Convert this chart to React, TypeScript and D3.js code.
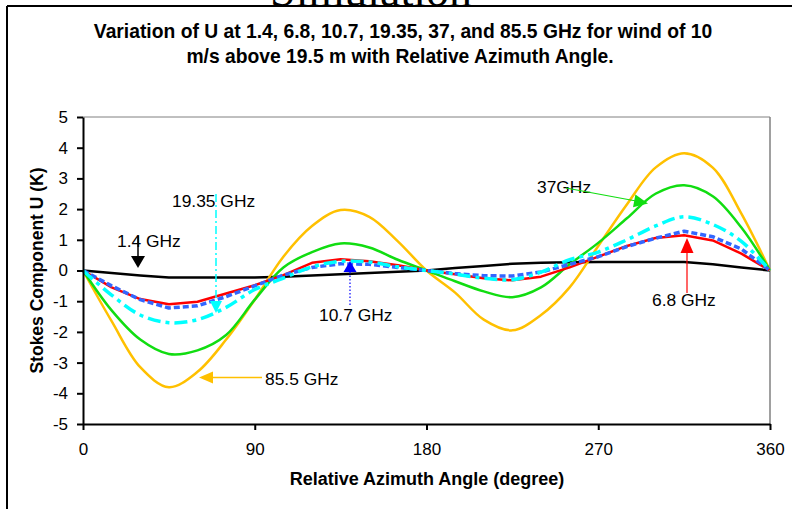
import React, { useEffect, useRef } from "react";
import * as d3 from "d3";

// Relative azimuth angle (degree)
const ANGLES = [0, 15, 30, 45, 60, 75, 90, 105, 120, 135, 150, 165, 180, 195, 210, 225, 240, 255, 270, 285, 300, 315, 330, 345, 360];

// Stokes component U (K) per frequency
const U_1_4 = [0, -0.08, -0.16, -0.23, -0.23, -0.23, -0.23, -0.2, -0.16, -0.12, -0.08, -0.04, 0, 0.08, 0.15, 0.22, 0.25, 0.27, 0.28, 0.28, 0.28, 0.28, 0.2, 0.1, 0];
const U_6_8 = [0, -0.55, -0.93, -1.1, -1.02, -0.75, -0.48, -0.15, 0.25, 0.37, 0.3, 0.17, 0, -0.12, -0.25, -0.32, -0.2, 0.1, 0.45, 0.8, 1.06, 1.15, 0.98, 0.55, 0];
const U_10_7 = [0, -0.5, -0.95, -1.22, -1.15, -0.85, -0.5, -0.15, 0.1, 0.22, 0.2, 0.1, 0, -0.1, -0.17, -0.18, -0.05, 0.2, 0.45, 0.78, 1.05, 1.28, 1.1, 0.7, 0];
const U_19_35 = [0, -0.8, -1.45, -1.7, -1.6, -1.2, -0.62, -0.25, 0.12, 0.3, 0.28, 0.12, 0, -0.12, -0.25, -0.3, -0.05, 0.35, 0.6, 1.0, 1.45, 1.75, 1.5, 0.95, 0];
const U_37 = [0, -1.3, -2.25, -2.72, -2.6, -2.1, -0.95, 0.1, 0.6, 0.88, 0.75, 0.35, 0, -0.35, -0.68, -0.87, -0.55, 0.2, 0.9, 1.7, 2.5, 2.78, 2.42, 1.4, 0];
const U_85_5 = [0, -1.65, -3.15, -3.8, -3.3, -2.25, -0.95, 0.45, 1.45, 1.97, 1.75, 0.95, 0, -0.72, -1.6, -1.95, -1.45, -0.55, 0.8, 2.15, 3.35, 3.82, 3.35, 1.85, 0];

const X_TICKS = [0, 90, 180, 270, 360];
const Y_TICKS = [-5, -4, -3, -2, -1, 0, 1, 2, 3, 4, 5];

const TITLE_1 = "Variation of U at 1.4, 6.8, 10.7, 19.35, 37, and 85.5 GHz for wind of 10";
const TITLE_2 = "m/s above 19.5 m with Relative Azimuth Angle.";
const X_TITLE = "Relative Azimuth Angle (degree)";
const Y_TITLE = "Stokes Component U (K)";

const SERIES = [
  { name: "1.4 GHz", values: U_1_4, color: "#000000", width: 2.5, dash: null, smooth: false },
  { name: "85.5 GHz", values: U_85_5, color: "#FFC000", width: 2.5, dash: null, smooth: true },
  { name: "37GHz", values: U_37, color: "#11DD11", width: 2.5, dash: null, smooth: true },
  { name: "6.8 GHz", values: U_6_8, color: "#FF0000", width: 2.5, dash: null, smooth: false },
  { name: "10.7 GHz", values: U_10_7, color: "#3366FF", width: 3.5, dash: "6,3", smooth: false },
  { name: "19.35 GHz", values: U_19_35, color: "#00FFFF", width: 3.5, dash: "13,5,4,5", smooth: true },
];

const FONT = "'Liberation Sans', Arial, sans-serif";

export default function App() {
  const xAxisRef = useRef<SVGGElement>(null);
  const yAxisRef = useRef<SVGGElement>(null);

  const x = d3.scaleLinear().domain([0, 360]).range([83, 770]);
  const y = d3.scaleLinear().domain([-5, 5]).range([424, 117]);

  useEffect(() => {
    const fmt = (d: d3.NumberValue) => String(d);
    const gx = d3.select(xAxisRef.current as SVGGElement);
    gx.call(d3.axisBottom(x).tickValues(X_TICKS).tickSize(6).tickSizeOuter(0).tickPadding(13).tickFormat(fmt) as any);
    const gy = d3.select(yAxisRef.current as SVGGElement);
    gy.call(d3.axisLeft(y).tickValues(Y_TICKS).tickSize(6).tickSizeOuter(0).tickPadding(9).tickFormat(fmt) as any);
    [gx, gy].forEach((g) => {
      g.attr("font-family", FONT).attr("font-size", 17);
      g.select(".domain").attr("stroke", "#000").attr("stroke-width", 2);
      g.selectAll(".tick line").attr("stroke", "#000").attr("stroke-width", 2);
      g.selectAll(".tick text").attr("fill", "#000");
    });
    document.body.style.margin = "0";
  }, []);

  const lineGen = (smooth: boolean) =>
    d3
      .line<number>()
      .x((_, i) => x(ANGLES[i]))
      .y((d) => y(d))
      .curve(smooth ? d3.curveCatmullRom.alpha(0.5) : d3.curveLinear);

  const tri = (tx: number, ty: number, dx: number, dy: number, len: number, half: number, color: string) => {
    const n = Math.hypot(dx, dy);
    const ux = dx / n, uy = dy / n;
    const bx = tx - ux * len, by = ty - uy * len;
    const px = -uy, py = ux;
    return (
      <polygon
        points={`${tx},${ty} ${bx + px * half},${by + py * half} ${bx - px * half},${by - py * half}`}
        fill={color}
      />
    );
  };

  return (
    <svg width={792} height={509} style={{ position: "absolute", left: 0, top: 0, background: "#fff" }}>
      <rect x={0} y={0} width={792} height={509} fill="#fff" />
      <text x={371} y={6} textAnchor="middle" fontFamily="'Liberation Serif', 'Times New Roman', serif" fontSize={46} fill="#000">
        Simulation
      </text>
      {/* chart frame */}
      <line x1={7} y1={6} x2={792} y2={6} stroke="#000" strokeWidth={2} />
      <line x1={7} y1={6} x2={7} y2={509} stroke="#000" strokeWidth={2} />

      {/* title */}
      <g fontFamily={FONT} fontWeight="bold" fontSize={19.3} textAnchor="middle" fill="#000">
        <text x={403} y={38}>{TITLE_1}</text>
        <text x={400} y={63}>{TITLE_2}</text>
      </g>

      {/* plot area border */}
      <line x1={x(0)} y1={y(5)} x2={x(360)} y2={y(5)} stroke="#808080" strokeWidth={1} />
      <line x1={x(360)} y1={y(5)} x2={x(360)} y2={y(-5)} stroke="#808080" strokeWidth={1.5} />

      {/* series */}
      <g fill="none" strokeLinejoin="round">
        {SERIES.map((s) => (
          <path
            key={s.name}
            d={lineGen(s.smooth)(s.values) || ""}
            stroke={s.color}
            strokeWidth={s.width}
            strokeDasharray={s.dash || undefined}
          />
        ))}
      </g>

      <g ref={xAxisRef} transform={`translate(0,${y(-5)})`} />
      <g ref={yAxisRef} transform={`translate(${x(0)},0)`} />

      {/* axis titles */}
      <text x={427} y={485} textAnchor="middle" fontFamily={FONT} fontWeight="bold" fontSize={18} fill="#000">
        {X_TITLE}
      </text>
      <text
        transform={`translate(43,${y(0)}) rotate(-90)`}
        textAnchor="middle"
        fontFamily={FONT}
        fontWeight="bold"
        fontSize={17.5}
        fill="#000"
      >
        {Y_TITLE}
      </text>

      {/* annotations */}
      <g fontFamily={FONT} fontSize={17.4} fill="#000">
        {/* 1.4 GHz */}
        <text x={117} y={247}>1.4 GHz</text>
        <line x1={138} y1={236} x2={138} y2={258} stroke="#000" strokeWidth={1.5} />
        {tri(138, 268, 0, 1, 12, 7, "#000")}

        {/* 19.35 GHz */}
        <text x={172} y={207}>19.35 GHz</text>
        <line x1={216} y1={194} x2={216} y2={302} stroke="#00FFFF" strokeWidth={1.5} strokeDasharray="8,3,2,3" />
        {tri(216, 313, 0, 1, 12, 6, "#00FFFF")}

        {/* 10.7 GHz */}
        <text x={319} y={321}>10.7 GHz</text>
        <line x1={350} y1={305} x2={350} y2={272} stroke="#0000FF" strokeWidth={1.2} strokeDasharray="1.5,2" />
        {tri(350, 261, 0, -1, 11, 6.5, "#0000FF")}

        {/* 37GHz */}
        <text x={537} y={193}>37GHz</text>
        <line x1={566} y1={188} x2={636} y2={201} stroke="#11DD11" strokeWidth={1.2} />
        {tri(648, 203.5, 80, 15, 14, 6.5, "#11DD11")}

        {/* 6.8 GHz */}
        <text x={652} y={306}>6.8 GHz</text>
        <line x1={687} y1={293} x2={687} y2={250} stroke="#FF0000" strokeWidth={1.2} />
        {tri(687, 238, 0, -1, 15, 6.5, "#FF0000")}

        {/* 85.5 GHz */}
        <text x={265} y={385}>85.5 GHz</text>
        <line x1={262} y1={377.5} x2={210} y2={377.5} stroke="#FFC000" strokeWidth={1.5} />
        {tri(199, 377.5, -1, 0, 14, 6, "#FFC000")}
      </g>
    </svg>
  );
}
